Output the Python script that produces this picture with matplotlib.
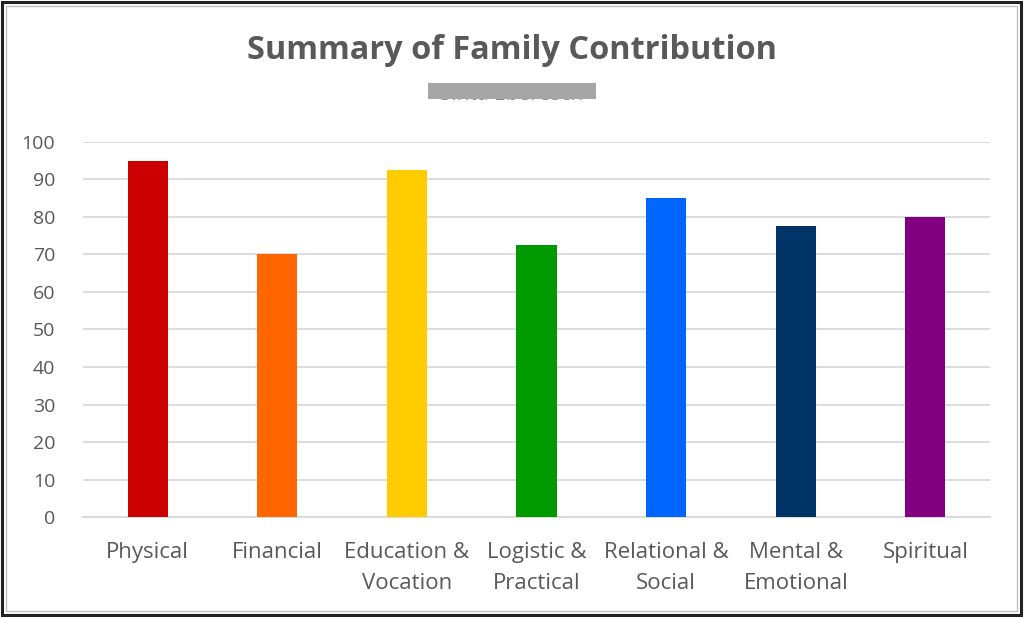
import matplotlib.pyplot as plt
from matplotlib.patches import Rectangle

# ---------------- data -----------------
categories = ['Physical', 'Financial', 'Education &\nVocation', 'Logistic &\nPractical',
              'Relational &\nSocial', 'Mental &\nEmotional', 'Spiritual']
scores = [95, 70, 92.5, 72.5, 85, 77.5, 80]
colors = ['#cc0000', '#ff6600', '#ffcc00', '#009900', '#0066ff', '#003366', '#800080']

plt.rcParams['font.family'] = ['Open Sans', 'DejaVu Sans']

fig = plt.figure(figsize=(10.24, 6.17), dpi=100)
ax = fig.add_axes([0.081, 0.162, 0.886, 0.608])

x = range(len(categories))
ax.bar(x, scores, width=0.31, color=colors, zorder=3)

ax.set_xlim(-0.5, len(categories) - 0.5)
ax.set_ylim(0, 100)
ax.set_yticks(range(0, 101, 10))
ax.set_xticks(list(x))
ax.set_xticklabels(categories, linespacing=1.6)
ax.yaxis.grid(True, color='#d9d9d9', linewidth=1.3, zorder=0)
for side in ['top', 'right', 'left']:
    ax.spines[side].set_visible(False)
ax.spines['bottom'].set_color('#d9d9d9')
ax.spines['bottom'].set_linewidth(1.3)
ax.tick_params(axis='y', length=0, labelsize=14, labelcolor='#595959', pad=20)
ax.tick_params(axis='x', length=0, labelsize=16, labelcolor='#595959', pad=18)

fig.text(0.5, 0.918, 'Summary of Family Contribution', ha='center', va='center',
         fontsize=23.4, fontweight='bold', color='#595959')
# blurred / redacted subtitle: faint text with a grey block over it
fig.text(0.5, 0.847, 'Sinta Eberesch', ha='center', va='center', fontsize=15,
         color='#8c8c8c')
fig.patches.append(Rectangle((428 / 1024, 1 - 99 / 617), 168 / 1024, 16 / 617,
                             transform=fig.transFigure, facecolor='#a6a6a6',
                             edgecolor='none', zorder=5))

# outer border of the picture
fig.patches.append(Rectangle((0.002, 0.004), 0.995, 0.993, transform=fig.transFigure,
                             fill=False, edgecolor='#222222', linewidth=2.2))
fig.patches.append(Rectangle((0.006, 0.010), 0.987, 0.981, transform=fig.transFigure,
                             fill=False, edgecolor='#bfbfbf', linewidth=1))

fig.savefig('out.png', dpi=100)
